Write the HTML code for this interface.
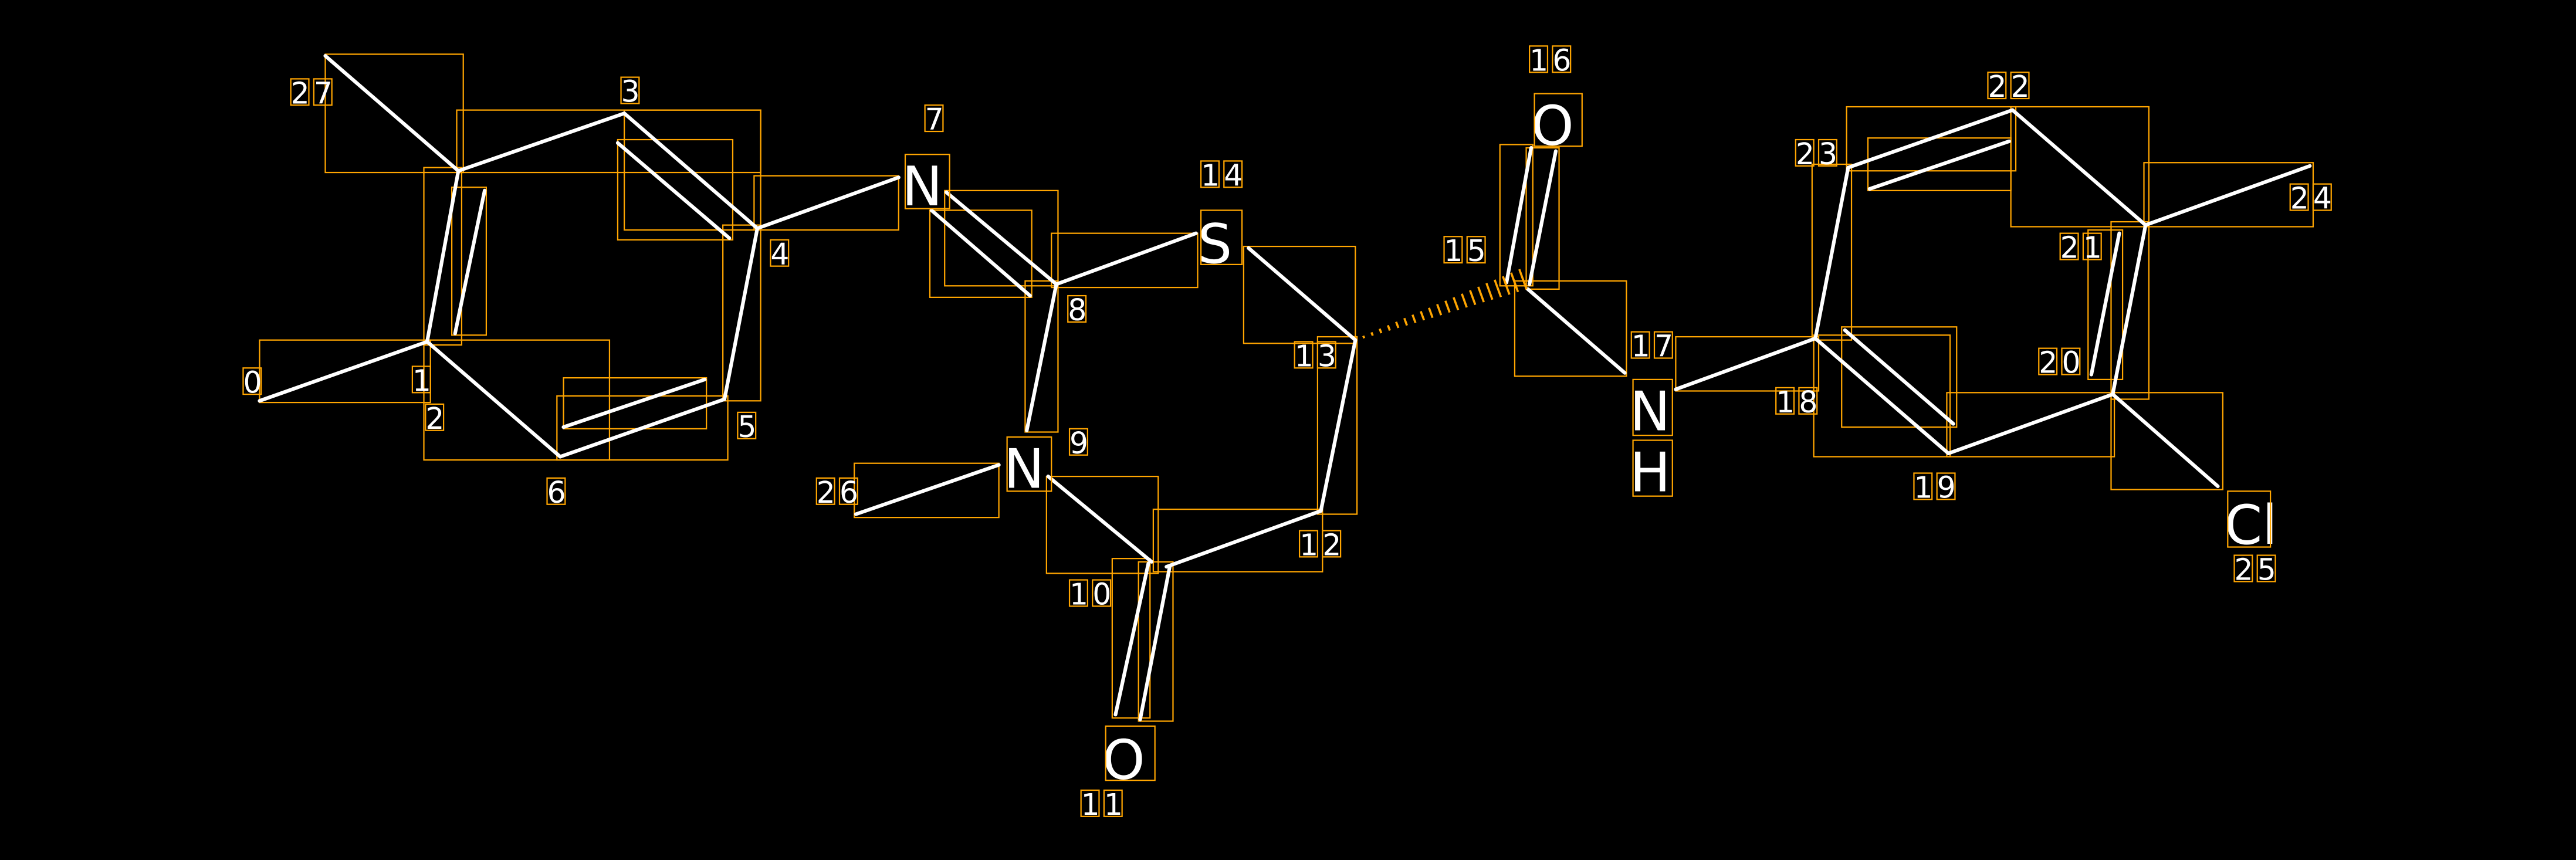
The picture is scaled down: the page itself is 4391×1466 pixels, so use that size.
<!DOCTYPE html>
<html><head><meta charset="utf-8"><style>
html,body{margin:0;padding:0;background:#000;}
svg{display:block;}
.b{stroke:#fff;stroke-width:2.2;stroke-linecap:round;fill:none;}
.r{stroke:#FFA500;stroke-width:0.8;fill:none;}
.n{font-family:"DejaVu Sans","Liberation Sans",sans-serif;font-size:18px;letter-spacing:2.55px;fill:#fff;}
.a{font-family:"DejaVu Sans","Liberation Sans",sans-serif;font-size:33px;fill:#fff;}
</style></head><body>
<svg width="4391" height="1466" viewBox="0 0 1568 523.5" xmlns="http://www.w3.org/2000/svg">
<rect x="0" y="0" width="1568" height="523.5" fill="#000"/>
<g class="r">
<rect x="198" y="33" width="84" height="72"/>
<rect x="278" y="67" width="185" height="38"/>
<rect x="258" y="102" width="23" height="108"/>
<rect x="275" y="114" width="21" height="90"/>
<rect x="376" y="85" width="70" height="61"/>
<rect x="380" y="67" width="83" height="73"/>
<rect x="459" y="107" width="88" height="33"/>
<rect x="440" y="137" width="23" height="107"/>
<rect x="258" y="207" width="113" height="73"/>
<rect x="158" y="207" width="104" height="38"/>
<rect x="343" y="230" width="87" height="31"/>
<rect x="339" y="241" width="104" height="39"/>
<rect x="575" y="116" width="69" height="58"/>
<rect x="566" y="128" width="62" height="53"/>
<rect x="640" y="142" width="89" height="33"/>
<rect x="624" y="171" width="20" height="92"/>
<rect x="757" y="150" width="68" height="59"/>
<rect x="802" y="205" width="24" height="108"/>
<rect x="702" y="310" width="103" height="38"/>
<rect x="637" y="290" width="68" height="59"/>
<rect x="677" y="340" width="23" height="97"/>
<rect x="693" y="342" width="21" height="97"/>
<rect x="520" y="282" width="88" height="33"/>
<rect x="913" y="88" width="20" height="86"/>
<rect x="929" y="90" width="20" height="86"/>
<rect x="922" y="171" width="68" height="58"/>
<rect x="1020" y="205" width="87" height="33"/>
<rect x="1103" y="100" width="24" height="107"/>
<rect x="1124" y="65" width="103" height="39"/>
<rect x="1137" y="84" width="87" height="32"/>
<rect x="1224" y="65" width="84" height="73"/>
<rect x="1305" y="99" width="103" height="39"/>
<rect x="1285" y="135" width="23" height="108"/>
<rect x="1271" y="140" width="21" height="91"/>
<rect x="1104" y="204" width="83" height="74"/>
<rect x="1121" y="199" width="70" height="61"/>
<rect x="1185" y="239" width="102" height="39"/>
<rect x="1285" y="239" width="68" height="59"/>
</g>
<g class="b">
<line x1="198" y1="34" x2="279" y2="104"/>
<line x1="279" y1="104" x2="380" y2="69"/>
<line x1="279" y1="104" x2="260" y2="208"/>
<line x1="277" y1="203" x2="295" y2="116"/>
<line x1="380" y1="69" x2="461" y2="139"/>
<line x1="376" y1="87" x2="444" y2="145"/>
<line x1="461" y1="139" x2="547" y2="108"/>
<line x1="461" y1="139" x2="441" y2="243"/>
<line x1="441" y1="243" x2="341" y2="278"/>
<line x1="343" y1="260" x2="429" y2="231"/>
<line x1="341" y1="278" x2="260" y2="208"/>
<line x1="260" y1="208" x2="158" y2="244"/>
<line x1="576" y1="117" x2="643" y2="173"/>
<line x1="567" y1="128" x2="627" y2="180"/>
<line x1="643" y1="173" x2="728" y2="142"/>
<line x1="643" y1="173" x2="625" y2="262"/>
<line x1="760" y1="151" x2="825" y2="207"/>
<line x1="825" y1="207" x2="804" y2="311"/>
<line x1="804" y1="311" x2="710" y2="345"/>
<line x1="638" y1="290" x2="701" y2="342"/>
<line x1="699" y1="343" x2="679" y2="435"/>
<line x1="712" y1="345" x2="694" y2="438"/>
<line x1="608" y1="283" x2="521" y2="313"/>
<line x1="917" y1="172" x2="932" y2="90"/>
<line x1="931" y1="173" x2="947" y2="92"/>
<line x1="930" y1="176" x2="989" y2="227"/>
<line x1="1020" y1="237" x2="1105" y2="206"/>
<line x1="1105" y1="206" x2="1125" y2="102"/>
<line x1="1125" y1="102" x2="1225" y2="67"/>
<line x1="1138" y1="115" x2="1223" y2="86"/>
<line x1="1225" y1="67" x2="1306" y2="137"/>
<line x1="1306" y1="137" x2="1406" y2="101"/>
<line x1="1306" y1="137" x2="1286" y2="240"/>
<line x1="1290" y1="142" x2="1273" y2="228"/>
<line x1="1286" y1="240" x2="1350" y2="296"/>
<line x1="1286" y1="240" x2="1186" y2="276"/>
<line x1="1105" y1="206" x2="1186" y2="276"/>
<line x1="1123" y1="201" x2="1189" y2="258"/>
</g>
<path stroke="#FFA500" stroke-width="1.3" fill="none" d="M829.8,204.4L830.4,205.9 M834.8,202.3L835.6,204.3 M839.8,200.1L840.8,202.8 M844.8,198L846,201.2 M849.8,195.9L851.2,199.6 M854.8,193.7L856.4,198.1 M859.8,191.6L861.6,196.5 M864.8,189.5L866.8,194.9 M869.8,187.4L872,193.4 M874.8,185.2L877.2,191.8 M879.8,183.1L882.4,190.2 M884.8,181L887.6,188.7 M889.8,178.8L892.8,187.1 M894.8,176.7L898,185.5 M899.8,174.6L903.2,183.9 M904.8,172.4L908.4,182.4 M909.8,170.3L913.6,180.8 M914.8,168.2L918.8,179.3 M919.8,166L924,177.7 M924.8,163.9L929.2,176.1"/>
<g class="a">
<text x="549" y="125">N</text>
<text x="611" y="297">N</text>
<text x="729" y="160">S</text>
<text x="671" y="474">O</text>
<text x="932" y="88">O</text>
<text x="992" y="262">N</text>
<text x="992" y="299">H</text>
<text x="1354" y="331">Cl</text>
</g>
<g class="r">
<rect x="551" y="94" width="27" height="33"/>
<rect x="613" y="266" width="27" height="33"/>
<rect x="731" y="128" width="25" height="33"/>
<rect x="673" y="442" width="30" height="33"/>
<rect x="934" y="57" width="29" height="32"/>
<rect x="994" y="231" width="24" height="34"/>
<rect x="994" y="268" width="24" height="34"/>
<rect x="1356" y="299" width="26" height="34"/>
</g>
<g class="n">
<text x="148" y="239">0</text>
<text x="251" y="238">1</text>
<text x="259" y="261">2</text>
<text x="378" y="62">3</text>
<text x="469" y="161">4</text>
<text x="449" y="266">5</text>
<text x="333" y="306">6</text>
<text x="177" y="63">27</text>
<text x="563" y="79">7</text>
<text x="650" y="195">8</text>
<text x="651" y="276">9</text>
<text x="497" y="306">26</text>
<text x="651" y="368">10</text>
<text x="658" y="496">11</text>
<text x="791" y="338">12</text>
<text x="788" y="223">13</text>
<text x="731" y="113">14</text>
<text x="879" y="159">15</text>
<text x="931" y="43">16</text>
<text x="993" y="217">17</text>
<text x="1081" y="251">18</text>
<text x="1165" y="303">19</text>
<text x="1241" y="227">20</text>
<text x="1254" y="157">21</text>
<text x="1210" y="59">22</text>
<text x="1093" y="100">23</text>
<text x="1394" y="127">24</text>
<text x="1360" y="353">25</text>
</g>
<g class="r">
<rect x="148" y="224" width="11" height="16"/>
<rect x="251" y="223" width="11" height="16"/>
<rect x="259" y="246" width="11" height="16"/>
<rect x="378" y="47" width="11" height="16"/>
<rect x="469" y="146" width="11" height="16"/>
<rect x="449" y="251" width="11" height="16"/>
<rect x="333" y="291" width="11" height="16"/>
<rect x="177" y="48" width="11" height="16"/><rect x="191" y="48" width="11" height="16"/>
<rect x="563" y="64" width="11" height="16"/>
<rect x="650" y="180" width="11" height="16"/>
<rect x="651" y="261" width="11" height="16"/>
<rect x="497" y="291" width="11" height="16"/><rect x="511" y="291" width="11" height="16"/>
<rect x="651" y="353" width="11" height="16"/><rect x="665" y="353" width="11" height="16"/>
<rect x="658" y="481" width="11" height="16"/><rect x="672" y="481" width="11" height="16"/>
<rect x="791" y="323" width="11" height="16"/><rect x="805" y="323" width="11" height="16"/>
<rect x="788" y="208" width="11" height="16"/><rect x="802" y="208" width="11" height="16"/>
<rect x="731" y="98" width="11" height="16"/><rect x="745" y="98" width="11" height="16"/>
<rect x="879" y="144" width="11" height="16"/><rect x="893" y="144" width="11" height="16"/>
<rect x="931" y="28" width="11" height="16"/><rect x="945" y="28" width="11" height="16"/>
<rect x="993" y="202" width="11" height="16"/><rect x="1007" y="202" width="11" height="16"/>
<rect x="1081" y="236" width="11" height="16"/><rect x="1095" y="236" width="11" height="16"/>
<rect x="1165" y="288" width="11" height="16"/><rect x="1179" y="288" width="11" height="16"/>
<rect x="1241" y="212" width="11" height="16"/><rect x="1255" y="212" width="11" height="16"/>
<rect x="1254" y="142" width="11" height="16"/><rect x="1268" y="142" width="11" height="16"/>
<rect x="1210" y="44" width="11" height="16"/><rect x="1224" y="44" width="11" height="16"/>
<rect x="1093" y="85" width="11" height="16"/><rect x="1107" y="85" width="11" height="16"/>
<rect x="1394" y="112" width="11" height="16"/><rect x="1408" y="112" width="11" height="16"/>
<rect x="1360" y="338" width="11" height="16"/><rect x="1374" y="338" width="11" height="16"/>
</g>
</svg>
</body></html>
